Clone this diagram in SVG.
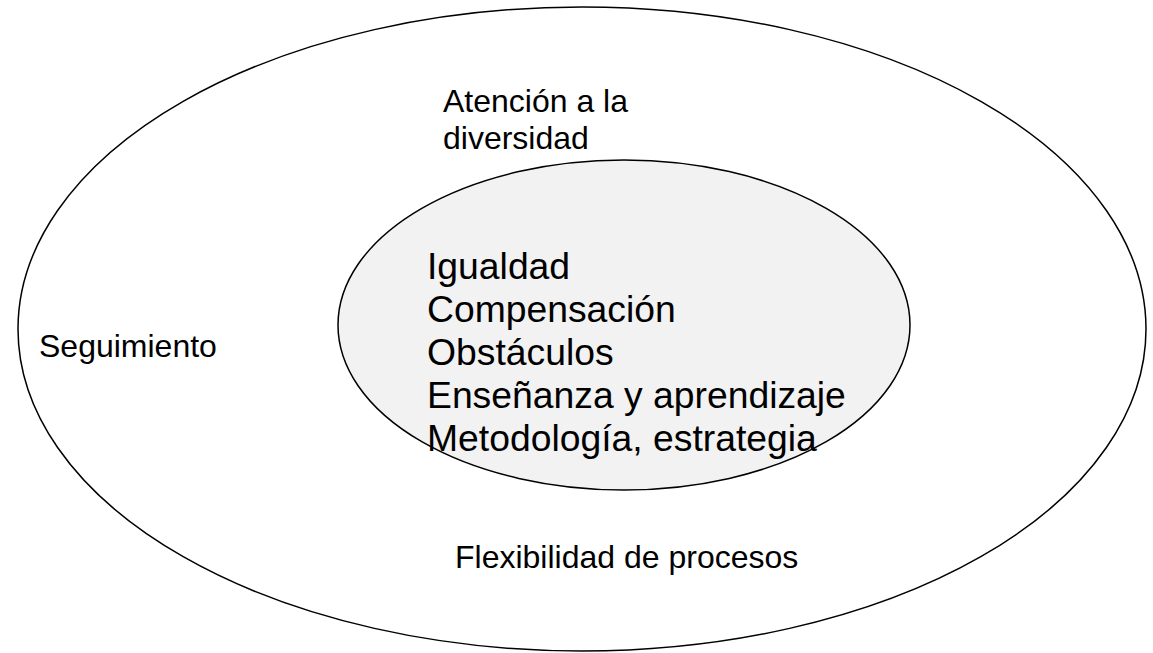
<svg xmlns="http://www.w3.org/2000/svg" width="1153" height="653" viewBox="0 0 1153 653">
<style>
.e{stroke:#000;stroke-width:1.5}
.t{font-family:"Liberation Sans",Arial,sans-serif;fill:#000}
.o{font-size:32px}
.i{font-size:37.3px}
</style>
<rect width="1153" height="653" fill="#fff"/>
<g id="outer">
<ellipse class="e" cx="582" cy="329" rx="564" ry="322" fill="#fff"/>
<text class="t o" x="443" y="112"><tspan x="443" y="112">Atención a la</tspan><tspan x="443" y="149">diversidad</tspan></text>
<text class="t o" x="39" y="357">Seguimiento</text>
<text class="t o" x="455" y="568">Flexibilidad de procesos</text>
</g>
<g id="inner">
<ellipse class="e" cx="624" cy="325" rx="286" ry="165" fill="#f2f2f2"/>
<text class="t i" x="427" y="279"><tspan x="427" y="279">Igualdad</tspan><tspan x="427" y="322">Compensación</tspan><tspan x="427" y="365">Obstáculos</tspan><tspan x="427" y="408">Enseñanza y aprendizaje</tspan><tspan x="427" y="451">Metodología, estrategia</tspan></text>
</g>
<g id="connectors"/>
</svg>
